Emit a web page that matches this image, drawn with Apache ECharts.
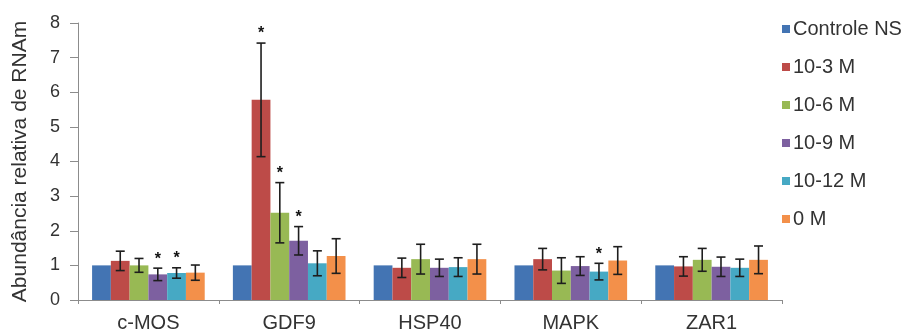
<!DOCTYPE html>
<html>
<head>
<meta charset="utf-8">
<script src="https://cdn.jsdelivr.net/npm/echarts@6/dist/echarts.min.js"></script>
<style>html,body{margin:0;padding:0;background:#fff}#c{width:915px;height:332px}</style>
</head>
<body>
<div id="c"></div>
<script>
var categories = ['c-MOS', 'GDF9', 'HSP40', 'MAPK', 'ZAR1'];
var seriesNames = ['Controle NS', '10-3 M', '10-6 M', '10-9 M', '10-12 M', '0 M'];
var yTicks = [0, 1, 2, 3, 4, 5, 6, 7, 8];

var valControle = [1.00, 1.00, 1.00, 1.00, 1.00];
var val10_3  = [1.13, 5.78, 0.93, 1.18, 0.97];
var val10_6  = [1.00, 2.52, 1.18, 0.85, 1.16];
var val10_9  = [0.74, 1.71, 0.93, 0.98, 0.96];
var val10_12 = [0.78, 1.06, 0.95, 0.82, 0.93];
var val0     = [0.79, 1.27, 1.18, 1.14, 1.16];

var errControle = [0, 0, 0, 0, 0];
var err10_3  = [0.28, 1.64, 0.28, 0.31, 0.28];
var err10_6  = [0.20, 0.87, 0.43, 0.37, 0.33];
var err10_9  = [0.18, 0.41, 0.25, 0.27, 0.28];
var err10_12 = [0.15, 0.36, 0.27, 0.24, 0.25];
var err0     = [0.22, 0.50, 0.43, 0.40, 0.40];

var star10_3  = [0, 1, 0, 0, 0];
var star10_6  = [0, 1, 0, 0, 0];
var star10_9  = [1, 1, 0, 0, 0];
var star10_12 = [1, 0, 0, 1, 0];
var starNone  = [0, 0, 0, 0, 0];

var values = [valControle, val10_3, val10_6, val10_9, val10_12, val0];
var errors = [errControle, err10_3, err10_6, err10_9, err10_12, err0];
var stars  = [starNone, star10_3, star10_6, star10_9, star10_12, starNone];
var colors = ['#4374B3', '#BD4B48', '#98B954', '#7D60A0', '#46A9C4', '#F3904A'];

var FONT = '"Liberation Sans", Arial, sans-serif';
var nSeries = seriesNames.length;
var gapFrac = 0.2;

var series = [];
for (var s = 0; s < nSeries; s++) {
  series.push({
    name: seriesNames[s],
    type: 'bar',
    data: values[s],
    barGap: '0%',
    barCategoryGap: '20%',
    itemStyle: { color: colors[s] },
    emphasis: { disabled: true }
  });
}
for (var s2 = 0; s2 < nSeries; s2++) {
  (function (si) {
    var d = [];
    for (var i = 0; i < categories.length; i++) {
      if (errors[si][i] > 0 || stars[si][i]) d.push([i, values[si][i], errors[si][i], stars[si][i]]);
    }
    series.push({
      type: 'custom',
      z: 5,
      silent: true,
      data: d,
      encode: { x: 0, y: 1 },
      renderItem: function (params, api) {
        var ci = api.value(0), v = api.value(1), e = api.value(2), st = api.value(3);
        var band = api.size([1, 0])[0];
        var bw = band * (1 - gapFrac) / nSeries;
        var cx = api.coord([ci, 0])[0] + (si - (nSeries - 1) / 2) * bw;
        var yTop = api.coord([ci, v + e])[1];
        var yBot = api.coord([ci, v - e])[1];
        var cap = 4.5;
        var ls = { stroke: '#1e1e1e', lineWidth: 1.6 };
        var children = [];
        if (e > 0) {
          children.push({ type: 'line', shape: { x1: cx, y1: yTop, x2: cx, y2: yBot }, style: ls });
          children.push({ type: 'line', shape: { x1: cx - cap, y1: yTop, x2: cx + cap, y2: yTop }, style: ls });
          children.push({ type: 'line', shape: { x1: cx - cap, y1: yBot, x2: cx + cap, y2: yBot }, style: ls });
        }
        if (st) {
          children.push({ type: 'text', style: { text: '*', x: cx, y: yTop - 1, align: 'center', verticalAlign: 'bottom', fill: '#111', font: 'bold 16px ' + FONT } });
        }
        return { type: 'group', children: children };
      }
    });
  })(s2);
}

var chart = echarts.init(document.getElementById('c'), null, { renderer: 'canvas' });
chart.setOption({
  animation: false,
  backgroundColor: '#fff',
  grid: { left: 78, right: 133, top: 23, bottom: 32, containLabel: false, outerBoundsMode: 'none' },
  legend: {
    orient: 'vertical',
    left: 777,
    top: 14,
    itemWidth: 8,
    itemHeight: 8,
    itemGap: 18,
    icon: 'rect',
    data: seriesNames,
    textStyle: { fontFamily: FONT, fontSize: 20, color: '#333', padding: [0, 0, 0, -2] }
  },
  xAxis: {
    type: 'category',
    data: categories,
    axisLine: { lineStyle: { color: '#8c8c8c', width: 1 } },
    axisTick: { show: true, length: 4, lineStyle: { color: '#8c8c8c' } },
    axisLabel: { fontFamily: FONT, fontSize: 20, color: '#333', margin: 13 }
  },
  yAxis: {
    type: 'value',
    min: 0,
    max: 8,
    interval: 1,
    name: 'Abundância relativa de RNAm',
    nameLocation: 'middle',
    nameRotate: 90,
    nameGap: 47,
    nameTextStyle: { fontFamily: FONT, fontSize: 21, color: '#333' },
    axisLine: { show: true, lineStyle: { color: '#8c8c8c', width: 1 } },
    axisTick: { show: true, length: 8, lineStyle: { color: '#8c8c8c' } },
    splitLine: { show: false },
    axisLabel: {
      fontFamily: FONT, fontSize: 18, color: '#333', margin: 18,
      formatter: function (v) { return yTicks.indexOf(v) >= 0 ? String(v) : ''; }
    }
  },
  series: series
});
</script>
</body>
</html>
